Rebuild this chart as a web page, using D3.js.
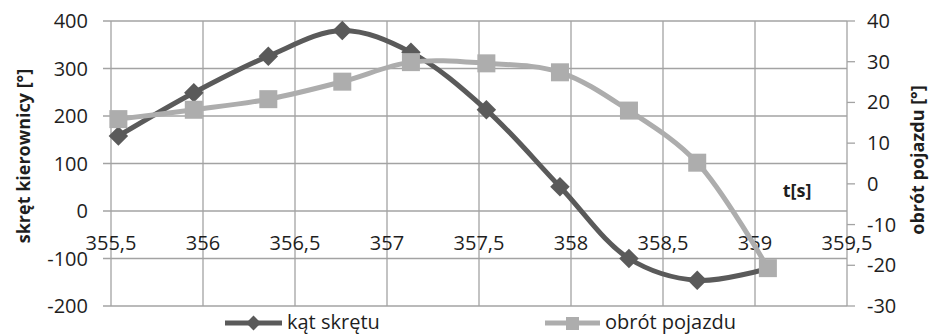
<!DOCTYPE html>
<html><head><meta charset="utf-8">
<script src="https://cdn.jsdelivr.net/npm/d3@7"></script>
<style>
html,body{margin:0;padding:0;background:#fff;}
svg{display:block;font-family:"Open Sans",sans-serif;}
</style></head>
<body><svg id="c" width="932" height="335"></svg>
<script>
// data
const time = [355.54, 355.95, 356.355, 356.757, 357.13, 357.54, 357.94, 358.315, 358.686, 359.07];
const katSkretu = [158, 249, 326, 380, 334, 213, 51, -100, -146, -121];
const obrotPojazdu = [15.9, 18.2, 20.8, 25.1, 29.9, 29.6, 27.4, 18.0, 5.2, -20.7];
const xTicks = [355.5, 356, 356.5, 357, 357.5, 358, 358.5, 359, 359.5];
const yLeftTicks = [-200, -100, 0, 100, 200, 300, 400];
const yRightTicks = [-30, -20, -10, 0, 10, 20, 30, 40];
const seriesNames = ["kąt skrętu", "obrót pojazdu"];

const svg = d3.select("#c");
const L = 111, R = 847, T = 21, B = 306;
const x = d3.scaleLinear().domain([355.5, 359.5]).range([L, R]);
const yL = d3.scaleLinear().domain([-200, 400]).range([B, T]);
const yR = d3.scaleLinear().domain([-30, 40]).range([B, T]);
const fmt = v => String(v).replace(".", ",");
const gridC = "#a3a3a3", dark = "#5a5a5a", light = "#adadad", txt = "#1e1e1e";

// horizontal gridlines + left ticks
svg.append("g").selectAll("line").data(yLeftTicks).join("line")
  .attr("x1", L - 8).attr("x2", R).attr("y1", d => yL(d)).attr("y2", d => yL(d))
  .attr("stroke", gridC).attr("stroke-width", 1.3);
// vertical gridlines
svg.append("g").selectAll("line").data(xTicks).join("line")
  .attr("x1", d => x(d)).attr("x2", d => x(d)).attr("y1", T).attr("y2", B)
  .attr("stroke", gridC).attr("stroke-width", 1.3);
// right ticks
svg.append("g").selectAll("line").data(yRightTicks).join("line")
  .attr("x1", R).attr("x2", R + 8).attr("y1", d => yR(d)).attr("y2", d => yR(d))
  .attr("stroke", gridC).attr("stroke-width", 1.3);

// tick labels
svg.append("g").selectAll("text").data(yLeftTicks).join("text")
  .attr("x", 88).attr("y", d => yL(d) + 7).attr("text-anchor", "end")
  .attr("font-size", 20).attr("fill", txt).text(d => d);
svg.append("g").selectAll("text").data(yRightTicks).join("text")
  .attr("x", 867).attr("y", d => yR(d) + 7).attr("text-anchor", "start")
  .attr("font-size", 20).attr("fill", txt).text(d => d);
svg.append("g").selectAll("text").data(xTicks).join("text")
  .attr("x", d => x(d)).attr("y", 250).attr("text-anchor", "middle")
  .attr("font-size", 20).attr("fill", txt).text(d => fmt(d));

// axis titles
svg.append("text").attr("transform", "translate(30,156) rotate(-90)")
  .attr("text-anchor", "middle").attr("font-size", 18).attr("font-weight", "bold")
  .attr("fill", txt).text("skręt kierownicy [°]");
svg.append("text").attr("transform", "translate(924,160) rotate(-90)")
  .attr("text-anchor", "middle").attr("font-size", 18).attr("font-weight", "bold")
  .attr("fill", txt).text("obrót pojazdu [°]");
svg.append("text").attr("x", 797).attr("y", 197).attr("text-anchor", "middle")
  .attr("font-size", 18).attr("font-weight", "bold").attr("fill", txt).text("t[s]");

const curve = d3.curveCatmullRom.alpha(0.5);
const d1 = time.map((t, i) => [t, katSkretu[i]]);
const d2 = time.map((t, i) => [t, obrotPojazdu[i]]);
const diamond = d3.symbol().type(d3.symbolSquare).size(190);

// dark series
svg.append("path").datum(d1)
  .attr("d", d3.line().x(d => x(d[0])).y(d => yL(d[1])).curve(curve))
  .attr("fill", "none").attr("stroke", dark).attr("stroke-width", 5);
svg.append("g").selectAll("path").data(d1.slice(0, d1.length - 1)).join("path")
  .attr("d", diamond)
  .attr("transform", d => `translate(${x(d[0])},${yL(d[1])}) rotate(45)`)
  .attr("fill", dark);

// light series
svg.append("path").datum(d2)
  .attr("d", d3.line().x(d => x(d[0])).y(d => yR(d[1])).curve(curve))
  .attr("fill", "none").attr("stroke", light).attr("stroke-width", 5);
svg.append("g").selectAll("rect").data(d2).join("rect")
  .attr("x", d => x(d[0]) - 9).attr("y", d => yR(d[1]) - 9)
  .attr("width", 18).attr("height", 18).attr("fill", light);

// legend
const lg = svg.append("g");
const ly = 323;
lg.append("line").attr("x1", 225).attr("x2", 282).attr("y1", ly).attr("y2", ly)
  .attr("stroke", dark).attr("stroke-width", 5);
lg.append("path").attr("d", d3.symbol().type(d3.symbolSquare).size(110))
  .attr("transform", `translate(253.5,${ly}) rotate(45)`).attr("fill", dark);
lg.append("text").attr("x", 287).attr("y", ly + 6).attr("font-size", 20).attr("fill", txt).text(seriesNames[0]);
lg.append("line").attr("x1", 545).attr("x2", 600).attr("y1", ly).attr("y2", ly)
  .attr("stroke", light).attr("stroke-width", 5);
lg.append("rect").attr("x", 566).attr("y", ly - 6).attr("width", 13).attr("height", 13).attr("fill", light);
lg.append("text").attr("x", 605).attr("y", ly + 6).attr("font-size", 20).attr("fill", txt).text(seriesNames[1]);
</script></body></html>
